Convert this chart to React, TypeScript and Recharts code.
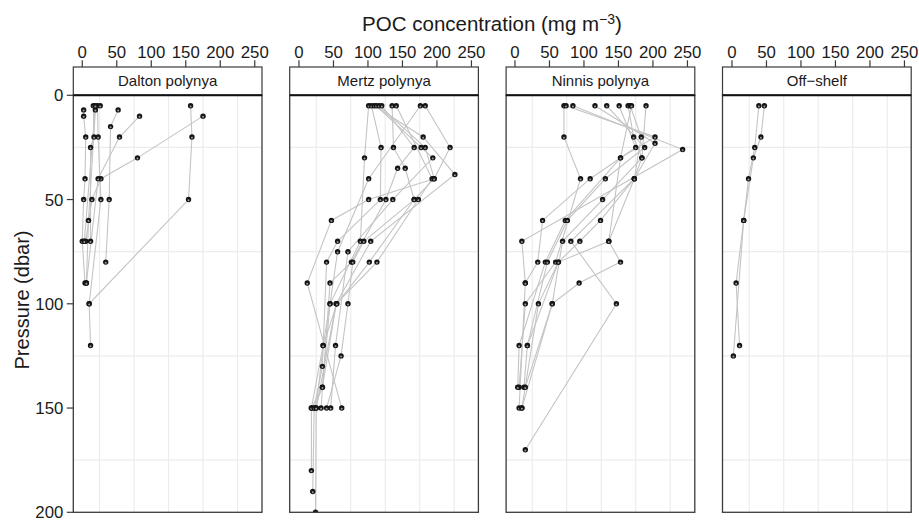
import React from 'react';
import { ScatterChart, Scatter, XAxis, YAxis, ReferenceLine } from 'recharts';

// ---- data: each station is a list of [POC (mg m^-3), pressure (dbar)] ----
const daltonStations: [number, number][][] = [
  [[157, 5], [159, 20], [154, 50], [10, 100], [12, 120]],
  [[175, 10], [80, 30], [27, 40], [14, 50], [5, 70]],
  [[83, 10], [54, 20], [23, 40], [6, 90]],
  [[52, 7], [41, 15], [39, 50], [34, 80]],
  [[2, 7], [2, 10], [5, 20], [4, 40], [2, 50], [0, 70], [4, 90]],
  [[16, 5], [17, 20], [12, 25], [12, 70]],
  [[22, 5], [23, 20], [27, 50], [10, 100]],
  [[26, 5], [19, 7], [9, 60], [6, 90]],
  [[19, 5], [3, 70]],
];

const mertzStations: [number, number][][] = [
  [[101, 5], [95, 30], [89, 70], [45, 100], [35, 120], [18, 150], [18, 180]],
  [[105, 5], [119, 25], [118, 50], [56, 70], [40, 80], [34, 130], [22, 150], [20, 190]],
  [[109, 5], [180, 20], [226, 38], [104, 70], [54, 100], [25, 150], [24, 200]],
  [[112, 5], [177, 25], [194, 30], [136, 50], [71, 75], [53, 120], [46, 150]],
  [[116, 5], [183, 25], [196, 40], [101, 50], [47, 60], [12, 90], [62, 150]],
  [[120, 5], [167, 25], [143, 35], [126, 50], [76, 80], [45, 90], [32, 150]],
  [[135, 5], [137, 25], [154, 35], [167, 50], [94, 70], [78, 80], [71, 100], [61, 125], [40, 150]],
  [[141, 5], [193, 40], [173, 50], [113, 80], [54, 100], [34, 140], [18, 150]],
  [[176, 5], [101, 40], [56, 75], [45, 100], [34, 140], [22, 150]],
  [[183, 5], [219, 25], [196, 40], [167, 50], [102, 80], [55, 100], [35, 120], [25, 150]],
];

const ninnisStations: [number, number][][] = [
  [[71, 5], [71, 20], [95, 40], [59, 80], [15, 100], [6, 140]],
  [[74, 5], [203, 20], [153, 30], [73, 60], [44, 80], [6, 120], [4, 140]],
  [[84, 5], [243, 26], [10, 70], [15, 90], [6, 150]],
  [[116, 5], [203, 23], [173, 40], [124, 60], [94, 70], [63, 80], [34, 100], [10, 150]],
  [[133, 5], [188, 25], [131, 40], [76, 60], [47, 80], [18, 120], [13, 140]],
  [[151, 5], [175, 25], [109, 40], [40, 60], [33, 80], [15, 90]],
  [[164, 5], [172, 20], [184, 30], [127, 50], [69, 70], [54, 100], [15, 140]],
  [[167, 5], [183, 20], [173, 40], [81, 70], [147, 100], [15, 170]],
  [[169, 5], [153, 30], [136, 70], [63, 80], [18, 120]],
  [[190, 5], [184, 30], [173, 40], [136, 70], [153, 80], [93, 90], [54, 100], [10, 150]],
];

const offShelfStations: [number, number][][] = [
  [[39, 5], [33, 25], [24, 40], [17, 60], [6, 90], [11, 120]],
  [[47, 5], [42, 20], [31, 30], [17, 60], [2, 125]],
];

const panelNames = ['Dalton polynya', 'Mertz polynya', 'Ninnis polynya', 'Off\u2212shelf'];
const panelStations = [daltonStations, mertzStations, ninnisStations, offShelfStations];

const xTicks = [0, 50, 100, 150, 200, 250];
const yTicks = [0, 50, 100, 150, 200];
const xGrid = [25, 75, 125, 175, 225];
const yGrid = [25, 75, 125, 175];

// ---- layout ----
const W = 919;
const H = 521;
const PANEL_LEFT0 = 73.3;
const PANEL_STEP = 216.4;
const PANEL_W = 188.7;
const PLOT_TOP = 95.3;
const PLOT_BOTTOM = 512.3;
const STRIP_TOP = 67;
const X_DOMAIN: [number, number] = [-13, 260.5];
const FONT = '"Liberation Sans", Arial, Helvetica, sans-serif';
const LINE_COLOR = '#c4c4c4';
const GRID_COLOR = '#ececec';
const BORDER = '#3a3a3a';
const SIDE = 22;

const renderXTick = (props: any) => {
  const { x, y, payload } = props;
  return (
    <g>
      <line x1={x} x2={x} y1={y - 35} y2={y - 28} stroke={BORDER} strokeWidth={1.2} />
      <text x={x} y={y - 37} textAnchor="middle" fontSize={16.8} fontFamily={FONT} fill="#1a1a1a">
        {payload.value}
      </text>
    </g>
  );
};

const renderYTick = (props: any) => {
  const { x, y, payload } = props;
  return (
    <g>
      <line x1={x - 6.5} x2={x} y1={y} y2={y} stroke={BORDER} strokeWidth={1.2} />
      <text x={x - 10} y={y} dy="0.36em" textAnchor="end" fontSize={16.8} fontFamily={FONT} fill="#1a1a1a">
        {payload.value}
      </text>
    </g>
  );
};

const renderDot = (props: any) => {
  const { cx, cy } = props;
  if (cx == null || cy == null) return <g />;
  return (
    <g>
      <circle cx={cx} cy={cy} r={2.7} fill="#151515" />
      <circle cx={cx} cy={cy + 0.7} r={1.0} fill="#9a9a9a" />
    </g>
  );
};

const renderNothing = () => <g />;

function Panel({ index }: { index: number }) {
  const L = PANEL_LEFT0 + index * PANEL_STEP;
  const showY = index === 0;
  const mL = showY ? L : SIDE;
  const chartLeft = L - mL;
  const width = mL + PANEL_W + SIDE;
  const xAxisH = 40;
  const yAxisW = 60;
  const stations = panelStations[index].map((st) => st.map(([poc, pressure]) => ({ poc, pressure })));
  return (
    <div style={{ position: 'absolute', left: chartLeft, top: 0 }}>
      <ScatterChart
        width={width}
        height={H}
        margin={{ top: PLOT_TOP - xAxisH, right: SIDE, bottom: H - PLOT_BOTTOM, left: showY ? L - yAxisW : SIDE }}
      >
        <XAxis
          type="number"
          dataKey="poc"
          orientation="top"
          domain={X_DOMAIN}
          ticks={xTicks}
          interval={0}
          allowDataOverflow
          height={xAxisH}
          tickLine={false}
          axisLine={false}
          tickSize={0}
          tickMargin={0}
          tick={renderXTick}
        />
        <YAxis
          type="number"
          dataKey="pressure"
          reversed
          domain={[0, 200]}
          ticks={yTicks}
          interval={0}
          allowDataOverflow
          width={showY ? yAxisW : 0}
          hide={!showY}
          tickLine={false}
          axisLine={false}
          tickSize={0}
          tickMargin={0}
          tick={renderYTick}
        />
        {xGrid.map((v) => (
          <ReferenceLine key={'gx' + v} x={v} stroke={GRID_COLOR} strokeWidth={1.2} ifOverflow="hidden" />
        ))}
        {yGrid.map((v) => (
          <ReferenceLine key={'gy' + v} y={v} stroke={GRID_COLOR} strokeWidth={1.2} ifOverflow="hidden" />
        ))}
        {stations.map((st, i) => (
          <Scatter
            key={'l' + i}
            data={st}
            line={{ stroke: LINE_COLOR, strokeWidth: 1.1 }}
            lineJointType="linear"
            shape={renderNothing}
            isAnimationActive={false}
          />
        ))}
        {stations.map((st, i) => (
          <Scatter key={'p' + i} data={st} shape={renderDot} isAnimationActive={false} />
        ))}
      </ScatterChart>
    </div>
  );
}

export default function App() {
  return (
    <div style={{ position: 'absolute', left: 0, top: 0, width: W, height: H, background: '#ffffff', fontFamily: FONT, overflow: 'hidden' }}>
      {panelNames.map((_, i) => (
        <Panel key={i} index={i} />
      ))}
      <svg width={W} height={H} style={{ position: 'absolute', left: 0, top: 0, pointerEvents: 'none' }}>
        {panelNames.map((name, i) => {
          const L = PANEL_LEFT0 + i * PANEL_STEP;
          return (
            <g key={name}>
              <rect x={L} y={STRIP_TOP} width={PANEL_W} height={PLOT_TOP - STRIP_TOP} fill="#ffffff" stroke={BORDER} strokeWidth={1.2} />
              <text x={L + PANEL_W / 2} y={STRIP_TOP + 19} textAnchor="middle" fontSize={15} fontFamily={FONT} fill="#1a1a1a">
                {name}
              </text>
              <rect x={L} y={PLOT_TOP} width={PANEL_W} height={PLOT_BOTTOM - PLOT_TOP} fill="none" stroke={BORDER} strokeWidth={1.3} />
              <line x1={L} x2={L + PANEL_W} y1={PLOT_TOP} y2={PLOT_TOP} stroke="#111" strokeWidth={2} />
            </g>
          );
        })}
        <text x={492} y={31} textAnchor="middle" fontSize={20.5} fontFamily={FONT} fill="#1a1a1a">
          POC concentration (mg m
          <tspan dy={-7} fontSize={14}>{'\u22123'}</tspan>
          <tspan dy={7}>)</tspan>
        </text>
        <text
          x={29}
          y={300}
          transform="rotate(-90 29 300)"
          textAnchor="middle"
          fontSize={20}
          fontFamily={FONT}
          fill="#1a1a1a"
        >
          Pressure (dbar)
        </text>
      </svg>
    </div>
  );
}
